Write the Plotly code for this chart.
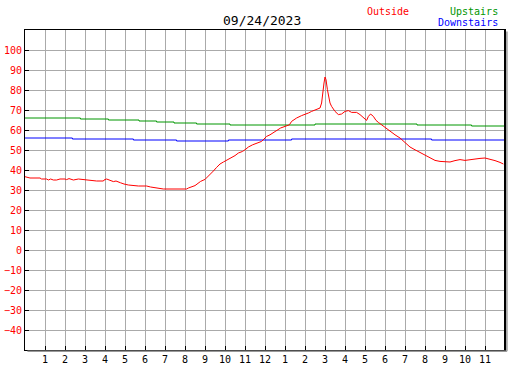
import plotly.graph_objects as go

# Outside temperature (hour of day, °F)
outside_hours = [0, 0.25, 0.75, 0.83, 1.08, 1.17, 1.28, 1.42, 1.58, 1.75, 2.0, 2.08, 2.2, 2.42, 2.67, 3.0,
                 3.58, 3.92, 3.95, 4.08, 4.25, 4.42, 4.55, 4.67, 4.78, 4.95, 5.17, 5.67, 6.08, 6.28, 6.67,
                 6.92, 8.08, 8.17, 8.5, 8.67, 8.78, 9.0, 9.17, 9.28, 9.42, 9.58, 9.75, 9.92, 10.12, 10.33,
                 10.5, 10.67, 10.88, 11.05, 11.17, 11.38, 11.62, 11.83, 11.95, 12.08, 12.25, 12.42, 12.58,
                 12.78, 13.0, 13.22, 13.33, 13.58, 13.83, 14.0, 14.17, 14.33, 14.58, 14.75, 14.83, 14.88,
                 14.95, 15.0, 15.05, 15.12, 15.18, 15.25, 15.33, 15.5, 15.67, 15.83, 16.0, 16.17, 16.33,
                 16.58, 16.75, 16.92, 17.08, 17.17, 17.28, 17.42, 17.55, 17.67, 17.83, 18.0, 18.25, 18.5,
                 18.75, 19.0, 19.25, 19.5, 19.75, 20.0, 20.25, 20.5, 20.75, 21.0, 21.25, 21.5, 21.75, 22.0,
                 22.25, 22.5, 22.75, 23.0, 23.25, 23.5, 23.75, 23.92]
outside_temps = [36.65, 36, 36, 35.5, 35.5, 35, 35.5, 35, 35, 35.5, 35.5, 35.2, 35.7, 35, 35.5, 35,
                 34.5, 34.5, 35, 35.5, 35, 34.2, 34.5, 34.2, 33.6, 33, 32.5, 32, 32, 31.5, 31,
                 30.5, 30.5, 31, 32.2, 33.5, 34.3, 35.3, 36.8, 38, 39.5, 41.3, 43, 44, 45, 46,
                 47.2, 48.5, 49.3, 50.5, 51.5, 52.6, 53.5, 54.3, 55.5, 56.8, 57.6, 58.8, 59.8,
                 61, 61.8, 62.6, 64.3, 66, 67.2, 67.7, 68.5, 69.3, 70.2, 71, 73.5, 78.5,
                 83.5, 86.5, 85.2, 80.2, 76, 73.5, 71.8, 69.3, 67.7, 68, 69.3, 69.7, 68.8,
                 68.8, 67.7, 66, 64.8, 66.8, 68, 66.8, 64.8, 63.8, 62.6, 61, 59.3, 57.6,
                 56, 53.5, 51.5, 50.1, 48.8, 47.2, 46, 44.8, 44.3, 44, 44, 44.7, 45.2, 44.8,
                 45.2, 45.7, 45.8, 46, 45.5, 44.7, 43.8, 43]

# Upstairs temperature (step changes)
upstairs_hours = [0, 2.77, 4.17, 5.7, 6.58, 7.45, 8.58, 10.25, 14.5, 19.6, 22.33, 24]
upstairs_temps = [66, 65.5, 65, 64.5, 64, 63.5, 63, 62.5, 63, 62.5, 62, 62]

# Downstairs temperature (step changes)
downstairs_hours = [0, 2.37, 5.42, 7.58, 10.17, 13.33, 20.33, 24]
downstairs_temps = [56, 55.5, 55, 54.5, 55, 55.5, 55, 55]

y_ticks = list(range(-40, 101, 10))
x_ticks = list(range(1, 24))
x_labels = [str(h if h <= 12 else h - 12) for h in x_ticks]

RED = "#ff0000"
GREEN = "#009600"
BLUE = "#0000ff"
MONO = "DejaVu Sans Mono"

fig = go.Figure()
fig.add_trace(go.Scatter(x=upstairs_hours, y=upstairs_temps, mode="lines",
                         line=dict(color=GREEN, width=1, shape="hv"), name="Upstairs"))
fig.add_trace(go.Scatter(x=downstairs_hours, y=downstairs_temps, mode="lines",
                         line=dict(color=BLUE, width=1, shape="hv"), name="Downstairs"))
fig.add_trace(go.Scatter(x=outside_hours, y=outside_temps, mode="lines",
                         line=dict(color=RED, width=1), name="Outside"))

fig.update_layout(
    width=527, height=370,
    margin=dict(l=25, r=22, t=30, b=20, autoexpand=False),
    paper_bgcolor="white", plot_bgcolor="white",
    showlegend=False,
    font=dict(family=MONO, size=10, color="black"),
)
fig.update_xaxes(range=[0, 24], tickvals=x_ticks, ticktext=x_labels, automargin=False,
                 showgrid=True, gridcolor="#aaaaaa", gridwidth=1,
                 ticks="inside", ticklen=4, tickcolor="black",
                 showline=True, linecolor="black", linewidth=1, mirror=True,
                 tickfont=dict(family=MONO, size=10, color="black"), zeroline=False)
fig.update_yaxes(range=[-50, 110], tickvals=y_ticks, automargin=False,
                 showgrid=True, gridcolor="#aaaaaa", gridwidth=1,
                 ticks="inside", ticklen=4, tickcolor="black",
                 showline=True, linecolor="black", linewidth=1, mirror=True,
                 tickfont=dict(family=MONO, size=10, color=RED), zeroline=False)

# shadow along bottom and right edges
fig.add_shape(type="line", xref="paper", yref="paper", x0=0.005, x1=1.004, y0=-0.004, y1=-0.004,
              line=dict(color="#999999", width=1.5))
fig.add_shape(type="line", xref="paper", yref="paper", x0=1.004, x1=1.004, y0=-0.004, y1=0.995,
              line=dict(color="#999999", width=1.5))
fig.add_shape(type="line", xref="paper", yref="paper", x0=1.0, x1=1.0, y0=0, y1=1,
              line=dict(color="black", width=2))

fig.add_annotation(text="09/24/2023", xref="paper", yref="paper", x=0.494, y=1.031,
                   xanchor="center", yanchor="middle", showarrow=False,
                   font=dict(family=MONO, size=13, color="black"))
fig.add_annotation(text="Outside", xref="paper", yref="paper", x=0.804, y=1.059,
                   xanchor="right", yanchor="middle", showarrow=False,
                   font=dict(family=MONO, size=10, color=RED))
fig.add_annotation(text="Upstairs", xref="paper", yref="paper", x=0.99, y=1.059,
                   xanchor="right", yanchor="middle", showarrow=False,
                   font=dict(family=MONO, size=10, color=GREEN))
fig.add_annotation(text="Downstairs", xref="paper", yref="paper", x=0.99, y=1.022,
                   xanchor="right", yanchor="middle", showarrow=False,
                   font=dict(family=MONO, size=10, color=BLUE))

fig.write_html("out.html", config={"displayModeBar": False},
               post_script="document.body.style.margin='0';document.body.style.overflow='hidden';")
